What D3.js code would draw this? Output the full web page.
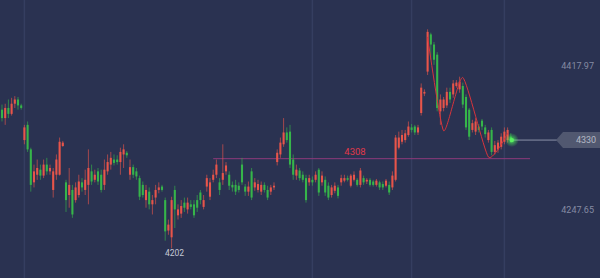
<!DOCTYPE html>
<html>
<head>
<meta charset="utf-8">
<script src="https://cdn.jsdelivr.net/npm/d3@7"></script>
<style>
    html, body { margin: 0; padding: 0; background: #2a3251; overflow: hidden; }
    svg { display: block; }
</style>
</head>
<body>
<svg id="chart" width="600" height="278"></svg>
<script>
// candle values (one entry per bar, left to right)
var open = [4366,4356,4368,4361,4373,4378,4371,4330,4348,4319,4280,4289,4295,4288,4301,4293,4271,4289,4289,4323,
    4280,4265,4271,4259,4265,4280,4271,4277,4293,4283,4293,4289,4277,4293,4301,4307,4307,4304,4313,4315,
    4289,4298,4293,4285,4277,4259,4269,4254,4262,4271,4275,4259,4223,4215,4271,4241,4243,4256,4248,4254,
    4254,4259,4268,4251,4275,4263,4283,4289,4280,4283,4293,4289,4277,4277,4276,4301,4275,4269,4293,4274,
    4271,4269,4277,4271,4269,4274,4304,4313,4325,4339,4340,4307,4288,4294,4289,4285,4280,4283,4283,4295,
    4280,4283,4276,4265,4270,4274,4280,4282,4285,4276,4283,4283,4277,4285,4281,4283,4281,4277,4280,4278,
    4276,4277,4274,4283,4321,4328,4330,4336,4345,4346,4339,4362,4385,4411,4455,4443,4431,4364,4368,4371,
    4387,4384,4394,4390,4394,4381,4366,4342,4340,4346,4353,4345,4330,4342,4316,4319,4322,4328,4330,4334];
var high = [4372,4373,4378,4380,4382,4381,4373,4348,4352,4321,4301,4307,4301,4307,4309,4301,4297,4313,4333,4329,
    4283,4297,4277,4280,4289,4285,4295,4319,4301,4295,4297,4295,4307,4313,4316,4313,4312,4321,4325,4317,
    4307,4301,4297,4288,4281,4277,4274,4265,4277,4280,4277,4262,4236,4263,4276,4254,4259,4262,4262,4259,
    4259,4265,4271,4265,4289,4285,4295,4307,4285,4325,4304,4293,4281,4283,4280,4309,4278,4281,4297,4285,
    4283,4281,4280,4276,4277,4280,4319,4333,4356,4345,4348,4313,4301,4297,4293,4289,4289,4287,4293,4297,
    4293,4287,4280,4277,4280,4277,4289,4289,4288,4290,4293,4285,4297,4288,4285,4285,4283,4284,4282,4281,
    4284,4281,4293,4336,4340,4342,4342,4352,4349,4348,4348,4397,4390,4461,4457,4446,4434,4384,4381,4392,
    4392,4401,4401,4405,4398,4384,4368,4354,4356,4349,4355,4348,4342,4345,4329,4330,4338,4345,4345,4338];
var low = [4352,4348,4356,4359,4368,4366,4366,4325,4316,4269,4274,4283,4283,4285,4289,4289,4262,4283,4288,4322,
    4245,4250,4238,4256,4262,4269,4265,4254,4277,4280,4277,4268,4271,4289,4295,4300,4301,4289,4297,4309,
    4283,4285,4283,4259,4262,4250,4248,4242,4254,4267,4269,4211,4218,4202,4226,4236,4238,4245,4243,4248,
    4238,4245,4254,4248,4269,4259,4280,4285,4265,4277,4289,4271,4269,4265,4268,4277,4264,4264,4259,4270,
    4268,4265,4268,4259,4265,4271,4300,4309,4322,4327,4297,4283,4283,4282,4280,4256,4276,4276,4280,4264,
    4276,4264,4259,4262,4267,4261,4276,4280,4281,4274,4281,4275,4274,4277,4278,4275,4275,4275,4271,4271,
    4274,4265,4271,4281,4319,4325,4327,4334,4339,4336,4336,4359,4382,4407,4425,4419,4364,4348,4364,4368,
    4374,4380,4392,4386,4368,4342,4330,4339,4336,4339,4342,4333,4327,4312,4313,4315,4319,4325,4327,4327];
var close = [4356,4368,4361,4373,4378,4371,4368,4345,4319,4277,4293,4297,4288,4301,4293,4297,4293,4307,4328,4327,
    4259,4277,4242,4274,4281,4274,4283,4297,4281,4289,4281,4271,4295,4304,4309,4303,4304,4316,4319,4312,
    4298,4289,4287,4263,4265,4271,4254,4259,4271,4274,4271,4222,4230,4259,4248,4248,4252,4250,4256,4251,
    4241,4250,4259,4259,4285,4280,4289,4301,4271,4291,4300,4276,4274,4269,4271,4280,4269,4275,4262,4280,
    4278,4277,4271,4262,4274,4276,4315,4327,4339,4330,4301,4289,4295,4285,4283,4259,4285,4280,4289,4268,
    4288,4268,4262,4274,4276,4264,4285,4285,4283,4288,4289,4277,4294,4280,4283,4277,4277,4282,4274,4274,
    4282,4268,4288,4333,4333,4336,4338,4346,4342,4339,4345,4392,4387,4458,4443,4425,4368,4378,4378,4387,
    4378,4397,4398,4399,4372,4345,4334,4350,4352,4342,4346,4337,4339,4316,4324,4327,4334,4340,4342,4330];

// price axis labels and markers
var axisTicks = [4417.97, 4247.65];
var lastPrice = 4330;
var levelPrice = 4308;
var levelFrom = 66;          // bar where the level line starts
var lowIndex = 53;
var gridIndex = [7, 97, 128, 157];

// wave drawn over the last swing
var waveIndex = [133, 138, 144, 152, 158];
var wavePrice = [4452, 4341, 4404, 4310, 4338];

var upColor = "#e8554a",
    downColor = "#36b54a";

var svg = d3.select("#chart");

var x = d3.scaleBand()
    .domain(d3.range(close.length))
    .range([0.4, 512.4])
    .paddingInner(0.35)
    .paddingOuter(0.175);

var y = d3.scaleLinear()
    .domain([4247.65, 4417.97])
    .range([209.7, 65.7]);

function cx(i) { return x(i) + x.bandwidth() / 2; }

// background
svg.append("rect")
    .attr("width", 600).attr("height", 278)
    .attr("fill", "#2a3251");

// vertical grid lines
svg.append("g").selectAll("line")
    .data(gridIndex)
    .enter().append("line")
    .attr("x1", function(d) { return cx(d); })
    .attr("x2", function(d) { return cx(d); })
    .attr("y1", 0).attr("y2", 278)
    .attr("stroke", "#353e60")
    .attr("stroke-width", 1.5);

// level line + label
svg.append("line")
    .attr("x1", cx(levelFrom)).attr("x2", 530)
    .attr("y1", y(levelPrice)).attr("y2", y(levelPrice))
    .attr("stroke", "#8e3a7a")
    .attr("stroke-width", 1);

svg.append("text")
    .attr("x", 355).attr("y", y(levelPrice) - 4)
    .attr("text-anchor", "middle")
    .attr("font-family", "Roboto, 'Liberation Sans', sans-serif")
    .attr("font-size", 9.5)
    .attr("fill", "#e2384a")
    .text(levelPrice);

// candles
var candle = svg.append("g").selectAll("g")
    .data(close.map(function(c, i) {
        return {i: i, o: open[i], h: high[i], l: low[i], c: c};
    }))
    .enter().append("g")
    .attr("fill", function(d) { return d.c >= d.o ? upColor : downColor; })
    .attr("stroke", function(d) { return d.c >= d.o ? upColor : downColor; });

candle.append("line")
    .attr("x1", function(d) { return cx(d.i); })
    .attr("x2", function(d) { return cx(d.i); })
    .attr("y1", function(d) { return y(d.h); })
    .attr("y2", function(d) { return y(d.l); })
    .attr("stroke-width", 0.8)
    .attr("stroke-opacity", 0.8);

candle.append("rect")
    .attr("stroke", "none")
    .attr("x", function(d) { return x(d.i); })
    .attr("width", x.bandwidth())
    .attr("y", function(d) { return y(Math.max(d.o, d.c)); })
    .attr("height", function(d) { return Math.max(1, Math.abs(y(d.o) - y(d.c))); });

// wave
var wave = d3.line()
    .x(function(d) { return cx(d[0]); })
    .y(function(d) { return y(d[1]); })
    .curve(d3.curveCardinal.tension(0.45));

svg.append("path")
    .attr("d", wave(d3.zip(waveIndex, wavePrice)))
    .attr("fill", "none")
    .attr("stroke", "#d8343c")
    .attr("stroke-width", 1);

// low label
var lowPrice = d3.min(low);
svg.append("text")
    .attr("x", cx(lowIndex) + 3).attr("y", y(lowPrice) + 8)
    .attr("text-anchor", "middle")
    .attr("font-family", "Roboto, 'Liberation Sans', sans-serif")
    .attr("font-size", 8.5)
    .attr("fill", "#c5c9d6")
    .text(lowPrice);

// price labels on the right
svg.append("g").selectAll("text")
    .data(axisTicks)
    .enter().append("text")
    .attr("x", 594)
    .attr("y", function(d) { return y(d); })
    .attr("dy", "0.35em")
    .attr("text-anchor", "end")
    .attr("font-family", "Roboto, 'Liberation Sans', sans-serif")
    .attr("font-size", 9)
    .attr("fill", "#858ba3")
    .text(function(d) { return d3.format(".2f")(d); });

// last price line, tag and glow
var last = cx(close.length - 1),
    ly = y(lastPrice);

svg.append("line")
    .attr("x1", last).attr("x2", 560)
    .attr("y1", ly).attr("y2", ly)
    .attr("stroke", "#8b91a8")
    .attr("stroke-width", 1);

svg.append("path")
    .attr("d", "M556," + ly + "L563," + (ly - 8) + "L600," + (ly - 8) + "L600," + (ly + 8) + "L563," + (ly + 8) + "Z")
    .attr("fill", "#515870");

svg.append("text")
    .attr("x", 586).attr("y", ly)
    .attr("dy", "0.35em")
    .attr("text-anchor", "middle")
    .attr("font-family", "Roboto, 'Liberation Sans', sans-serif")
    .attr("font-size", 9)
    .attr("fill", "#b4b8c6")
    .text(lastPrice);

var glow = svg.append("defs").append("radialGradient").attr("id", "glow");
glow.append("stop").attr("offset", "0%").attr("stop-color", "#4dff5a").attr("stop-opacity", 0.8);
glow.append("stop").attr("offset", "100%").attr("stop-color", "#4dff5a").attr("stop-opacity", 0);

svg.append("circle")
    .attr("cx", last + 1).attr("cy", ly).attr("r", 7)
    .attr("fill", "url(#glow)");
svg.append("circle")
    .attr("cx", last + 1).attr("cy", ly).attr("r", 2.2)
    .attr("fill", "#5cf060");
</script>
</body>
</html>
